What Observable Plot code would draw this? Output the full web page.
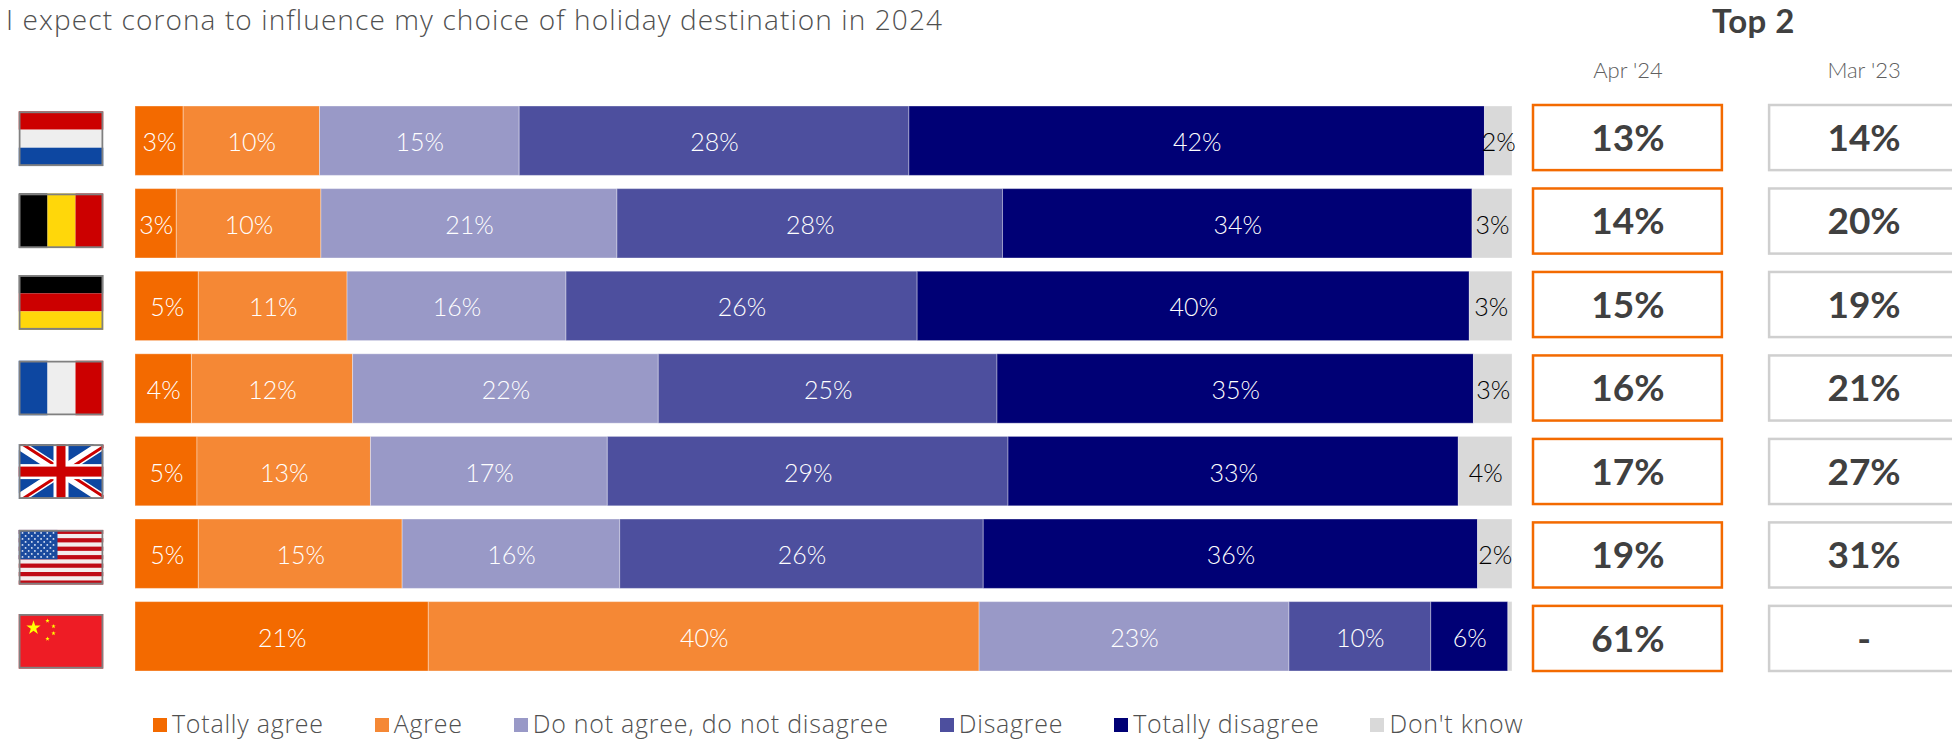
<!DOCTYPE html>
<html><head><meta charset="utf-8">
<script src="https://cdn.jsdelivr.net/npm/d3@7"></script>
<script src="https://cdn.jsdelivr.net/npm/@observablehq/plot@0.6"></script>
<style>
html,body{margin:0;padding:0;background:#fff;overflow:hidden}
#stage{position:relative;width:1952px;height:741px;overflow:hidden;font-family:"Open Sans",sans-serif;color:#404040}
#stage svg{position:absolute;top:0;background:none}
.t{position:absolute;white-space:nowrap;line-height:1}
#legend{position:absolute;left:153px;top:711px;display:flex;gap:51px;font-size:25px;font-weight:300;letter-spacing:.75px;color:#505050}
#legend div{display:flex;align-items:center;white-space:nowrap;line-height:1}
#legend i{display:inline-block;width:14px;height:14px;margin-right:5px;margin-top:3px}
</style></head><body><div id="stage">
<div class="t" id="title" style="left:6px;top:5px;font-size:28px;font-weight:300;letter-spacing:1.1px;color:#505050">I expect corona to influence my choice of holiday destination in 2024</div>
<div class="t" style="left:1712px;top:4px;font-family:Lato,sans-serif;font-size:33px;font-weight:700;letter-spacing:.4px;color:#404040">Top 2</div>
<div id="legend"></div>
</div>
<script>
const countries = ["NL","BE","DE","FR","UK","US","CN"];
const answers = ["Totally agree","Agree","Do not agree, do not disagree","Disagree","Totally disagree","Don't know"];
const answerColors = ["#F36A00","#F58835","#9999C7","#4D4F9E","#000075","#D9D9D9"];
const totallyAgree    = [3.5,3.0,4.6,4.1,4.5,4.6,21.3];
const agree           = [9.9,10.5,10.8,11.7,12.6,14.8,40.0];
const neutral         = [14.5,21.5,15.9,22.2,17.2,15.8,22.5];
const disagree        = [28.3,28.0,25.5,24.6,29.1,26.4,10.3];
const totallyDisagree = [41.8,34.1,40.1,34.6,32.7,35.9,5.6];
const dontKnow        = [2.0,2.9,3.1,2.8,3.9,2.5,0.3];
const labelsTotallyAgree    = ["3%","3%","5%","4%","5%","5%","21%"];
const labelsAgree           = ["10%","10%","11%","12%","13%","15%","40%"];
const labelsNeutral         = ["15%","21%","16%","22%","17%","16%","23%"];
const labelsDisagree        = ["28%","28%","26%","25%","29%","26%","10%"];
const labelsTotallyDisagree = ["42%","34%","40%","35%","33%","36%","6%"];
const labelsDontKnow        = ["2%","3%","3%","3%","4%","2%",""];
const periods = ["Apr '24","Mar '23"];
const top2Apr = ["13%","14%","15%","16%","17%","19%","61%"];
const top2Mar = ["14%","20%","19%","21%","27%","31%","-"];

const series = [totallyAgree,agree,neutral,disagree,totallyDisagree,dontKnow];
const seriesLabels = [labelsTotallyAgree,labelsAgree,labelsNeutral,labelsDisagree,labelsTotallyDisagree,labelsDontKnow];
const rows = answers.flatMap((a,i)=>countries.map((c,j)=>({country:c,answer:a,value:series[i][j],label:seriesLabels[i][j]})));
const top2 = countries.flatMap((c,j)=>[{country:c,period:periods[0],text:top2Apr[j]},{country:c,period:periods[1],text:top2Mar[j]}]);

// Flags as small SVG documents
const wrap = s => "data:image/svg+xml;utf8,"+encodeURIComponent(`<svg xmlns="http://www.w3.org/2000/svg" width="85" height="55" viewBox="0 0 85 55">${s}<rect x="1" y="1" width="83" height="53" fill="none" stroke="#808080" stroke-width="2"/></svg>`);
const rect=(x,y,w,h,f)=>`<rect x="${x}" y="${y}" width="${w}" height="${h}" fill="${f}"/>`;
const hb=(a,b,c)=>wrap(rect(0,0,85,18.5,a)+rect(0,18.5,85,18,b)+rect(0,36.5,85,18.5,c));
const vb=(a,b,c)=>wrap(rect(0,0,29,55,a)+rect(29,0,28,55,b)+rect(57,0,28,55,c));
const star=(cx,cy,r,f,rot=0)=>{let p=[];for(let i=0;i<10;i++){const q=(i%2?r*0.382:r),t=-Math.PI/2+rot+i*Math.PI/5;p.push((cx+q*Math.cos(t)).toFixed(2)+","+(cy+q*Math.sin(t)).toFixed(2));}return `<polygon points="${p.join(" ")}" fill="${f}"/>`;};
const ukFlag=wrap(rect(0,0,85,55,"#0D47A1")
 +`<path d="M0 0L85 55M85 0L0 55" stroke="#fff" stroke-width="10"/>`
 +`<path d="M0 0L42.5 27.5M85 55L42.5 27.5" stroke="#CC0000" stroke-width="3" transform="translate(1.5,-1.5)"/><path d="M85 0L42.5 27.5M0 55L42.5 27.5" stroke="#CC0000" stroke-width="3" transform="translate(1.5,1.5)"/>`
 +rect(35,0,15,55,"#fff")+rect(0,20,85,15,"#fff")+rect(38,0,9,55,"#CC0000")+rect(0,22.5,85,10,"#CC0000"));
let usBody=rect(0,0,85,55,"#F3EDED");
for(let i=0;i<7;i++)usBody+=rect(0,i*8.46,85,4.23,"#BF0A15");
usBody+=rect(0,0,39,29.6,"#1A4A9E");
for(let r=0;r<9;r++)for(let k=0;k<(r%2?5:6);k++)usBody+=`<circle cx="${(4+k*6.2+(r%2?3.1:0)).toFixed(1)}" cy="${(3.2+r*3).toFixed(1)}" r="0.95" fill="#DDE6F5"/>`;
const usFlag=wrap(usBody);
const cnFlag=wrap(rect(0,0,85,55,"#EE1C25")+star(15,14,7.5,"#FFFF00")+star(29,7,2.3,"#FFFF00")+star(35,12.5,2.3,"#FFFF00")+star(35,19.5,2.3,"#FFFF00")+star(29,25,2.3,"#FFFF00"));
const flags=[hb("#CC0000","#EEEEEE","#0D47A1"),vb("#000","#FFD70A","#CC0000"),hb("#000","#CC0000","#FFD70A"),vb("#0D47A1","#EEEEEE","#CC0000"),ukFlag,usFlag,cnFlag];
const flagShift=[-2.5,-3,-4,-1,0,3,4.5];

const numFont={fontFamily:"Lato,sans-serif",fontWeight:300,fontSize:25,dy:2};
const bars=Plot.plot({
  width:1525,height:741,
  marginLeft:135,marginRight:13,marginTop:106,marginBottom:70,
  x:{domain:[0,100],axis:null},
  y:{domain:countries,axis:null,paddingInner:0.16,paddingOuter:0,round:false},
  color:{domain:answers,range:answerColors},
  marks:[
    Plot.barX(rows,Plot.stackX({x:"value",y:"country",fill:"answer",stroke:"#fff",strokeOpacity:0.35,strokeWidth:1})),
    Plot.text(rows,Plot.stackX({x:"value",y:"country",z:"answer",text:d=>d.answer==="Don't know"?"":d.label,fill:"#fff",...numFont})),
    Plot.text(rows,Plot.stackX({x:"value",y:"country",z:"answer",text:d=>d.answer==="Don't know"?d.label:"",fill:"#000",...numFont})),
    ...flags.map((f,i)=>Plot.image([countries[i]],{y:d=>d,frameAnchor:"left",src:()=>f,width:85,height:55,dx:-74.5,dy:flagShift[i],preserveAspectRatio:"none"}))
  ]
});
bars.style.left="0px";
document.getElementById("stage").appendChild(bars);

const table=Plot.plot({
  width:433,height:741,
  marginLeft:8,marginRight:0,marginTop:105,marginBottom:70,
  x:{domain:periods,axis:null,paddingInner:0.2,paddingOuter:0,round:false},
  y:{domain:countries,axis:null,paddingInner:0.22,paddingOuter:0,round:false},
  marks:[
    Plot.cell(top2.filter(d=>d.period===periods[0]),{x:"period",y:"country",fill:"#fff",stroke:"#F36A00",strokeWidth:2.5}),
    Plot.cell(top2.filter(d=>d.period===periods[1]),{x:"period",y:"country",fill:"#fff",stroke:"#CFCFCF",strokeWidth:2.5}),
    Plot.text(top2,{x:"period",y:"country",text:"text",dy:1,fill:"#404040",fontFamily:"Lato,sans-serif",fontWeight:700,fontSize:37}),
    Plot.text(periods,{x:d=>d,frameAnchor:"top",dy:-43,text:d=>d,fill:"#606060",fontFamily:"Lato,sans-serif",fontWeight:300,fontSize:22})
  ]
});
table.style.left="1525px";
document.getElementById("stage").appendChild(table);

const lg=document.getElementById("legend");
answers.forEach((a,i)=>{const d=document.createElement("div");const s=document.createElement("i");s.style.background=answerColors[i];d.appendChild(s);d.appendChild(document.createTextNode(a));lg.appendChild(d);});
</script></body></html>
